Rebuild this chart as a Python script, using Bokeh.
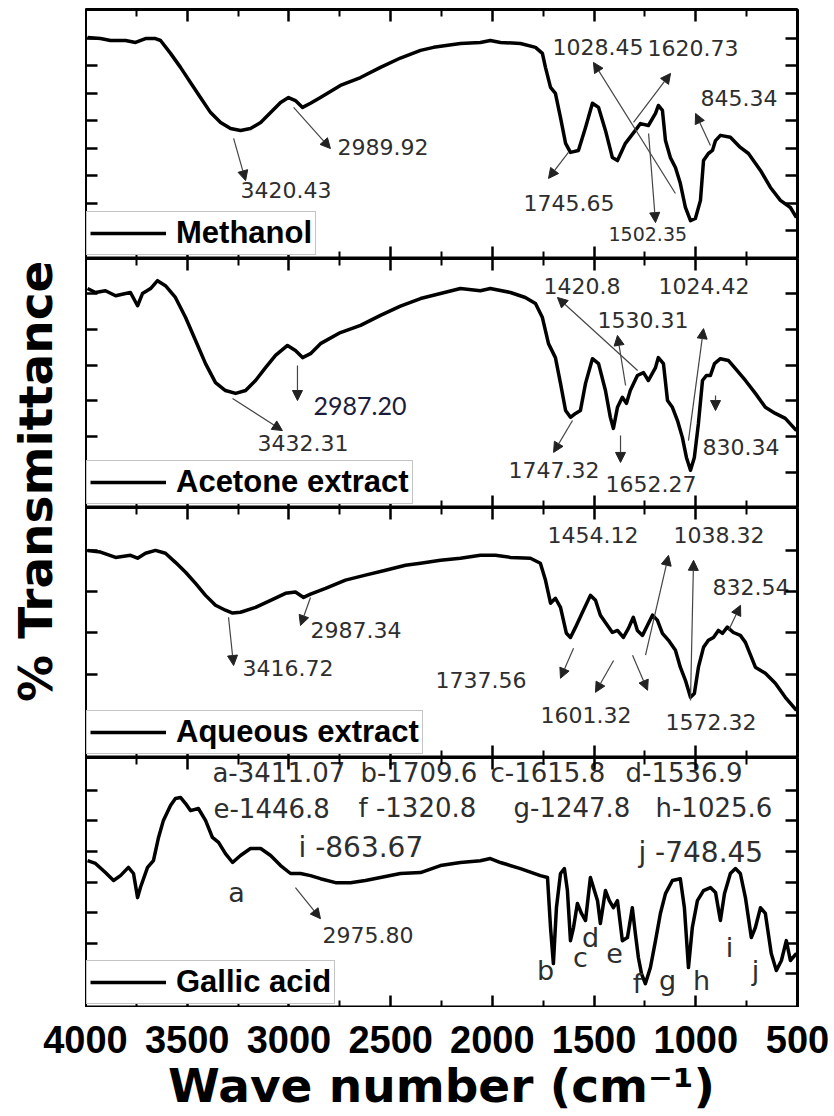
from bokeh.plotting import figure
from bokeh.models import (Range1d, FixedTicker, LinearAxis, Legend, LegendItem,
                          Arrow, NormalHead, ColumnDataSource)
from bokeh.layouts import row, column
from bokeh.embed import file_html
from bokeh.resources import INLINE
from bokeh.core.properties import value

# ---------------- data ----------------
methanol_wn = [3990, 3926, 3877, 3803, 3754, 3705, 3656, 3631, 3582, 3533, 3484, 3435, 3385, 3336, 3287, 3238,
               3189, 3139, 3090, 3041, 3002, 2968, 2933, 2894, 2845, 2747, 2648, 2550, 2452, 2353, 2289, 2157,
               2059, 2010, 1960, 1862, 1788, 1754, 1739, 1714, 1690, 1665, 1640, 1616, 1577, 1542, 1508, 1478,
               1444, 1410, 1385, 1346, 1297, 1272, 1233, 1198, 1184, 1164, 1149, 1125, 1100, 1076, 1051, 1026,
               1002, 977, 962, 938, 918, 903, 879, 830, 781, 741, 682, 633, 584, 535, 505]
methanol_t = [90.4, 90, 89.3, 89.3, 88.6, 90, 90, 89.3, 84.6, 79.5, 74, 68.5, 63, 59.4, 57.2, 56.5,
              57.2, 59.4, 63, 66.7, 68.5, 67.4, 64.9, 66.4, 68.5, 72.9, 75.8, 79.5, 82.9, 85.7, 86.8, 88.2,
              88.6, 89.3, 88.6, 88.2, 86.8, 84.6, 79.5, 72.2, 70, 61.2, 51.8, 48.5, 49.2, 57.6, 66.4, 64.9,
              56.5, 46.6, 45.5, 51.8, 56.5, 59, 58.3, 62.7, 65.6, 63.8, 52.8, 46.6, 43, 37.2, 28.4, 23.6,
              24.4, 31, 45.5, 48.1, 49.2, 52.8, 54.7, 54, 50.3, 48.1, 41.9, 35.7, 31, 28.4, 24.7]

acetone_wn = [3990, 3951, 3902, 3852, 3803, 3779, 3744, 3720, 3680, 3646, 3607, 3558, 3508, 3459, 3410, 3361,
              3312, 3262, 3213, 3164, 3115, 3066, 3007, 2968, 2933, 2894, 2845, 2747, 2648, 2550, 2452, 2353,
              2255, 2157, 2059, 2010, 1911, 1838, 1788, 1754, 1724, 1690, 1665, 1640, 1616, 1591, 1567, 1542,
              1508, 1478, 1444, 1420, 1405, 1385, 1361, 1341, 1322, 1287, 1257, 1233, 1198, 1184, 1159, 1139,
              1115, 1090, 1066, 1046, 1026, 1007, 987, 967, 948, 928, 908, 879, 840, 805, 756, 707, 658, 609,
              560, 505]
acetone_t = [81.4, 80.3, 80.8, 79.4, 80, 80.3, 76.6, 80, 81.4, 83.6, 82.2, 78.9, 73.3, 66.9, 60.4, 55.1,
             52.9, 52.1, 52.9, 55.7, 59.3, 62.7, 65.5, 64.1, 62.1, 63.2, 66, 69.1, 71.1, 73.9, 76.5, 78.6,
             80, 81.4, 80.8, 81.4, 80.3, 78.9, 77.2, 73.3, 66, 62.1, 54.9, 47.3, 45.4, 46.5, 47.3, 54.9,
             61.8, 60.4, 52.9, 45.4, 42.3, 48.2, 51, 49.3, 52.9, 57.1, 57.9, 55.7, 59.3, 62.1, 60.4, 50.1,
             48.2, 44.5, 39.8, 34.2, 30.6, 34.2, 43.7, 55.7, 57.1, 57.1, 60.4, 61.8, 61.3, 59, 55.7, 52.1,
             48.2, 46.5, 45.1, 41.7]

aqueous_wn = [3990, 3926, 3852, 3779, 3744, 3705, 3656, 3607, 3558, 3508, 3459, 3410, 3361, 3312, 3277, 3238,
              3164, 3090, 3017, 2968, 2928, 2894, 2820, 2722, 2624, 2525, 2427, 2353, 2255, 2157, 2059, 1985,
              1911, 1813, 1764, 1739, 1714, 1690, 1665, 1636, 1616, 1591, 1557, 1518, 1493, 1469, 1434, 1410,
              1385, 1356, 1331, 1307, 1287, 1262, 1238, 1213, 1189, 1164, 1134, 1100, 1076, 1051, 1026, 1007,
              987, 962, 938, 913, 889, 869, 845, 815, 781, 756, 707, 658, 609, 560, 505]
aqueous_t = [70, 69.6, 68.3, 68.8, 68.1, 69.3, 70, 69.3, 67.1, 64.7, 62, 59.1, 56.7, 55.5, 54.8, 55,
             56.2, 57.9, 59.6, 59.9, 58.6, 59.4, 60.8, 62.8, 64, 65.2, 66.4, 66.9, 67.6, 68.1, 68.8, 68.8,
             68.3, 68.1, 66.9, 62.8, 57.2, 58.4, 56.2, 49.9, 48.9, 51.4, 55, 59.1, 57.9, 54.3, 51.8, 50.1,
             50.6, 48.9, 51.1, 53.8, 50.6, 49.4, 51.8, 54.3, 53.1, 49.9, 48.2, 45.8, 41.7, 38.5, 34.4, 35.3,
             41.7, 46.5, 48.2, 48.9, 50.6, 49.9, 51.4, 50.1, 49.4, 47.7, 41.7, 40.2, 37.8, 34.4, 31.2]

gallic_wn = [3990, 3951, 3902, 3862, 3828, 3789, 3764, 3744, 3730, 3695, 3666, 3641, 3617, 3582, 3558, 3533,
             3508, 3484, 3445, 3410, 3376, 3346, 3312, 3277, 3238, 3189, 3139, 3090, 3041, 2992, 2943, 2894,
             2845, 2771, 2697, 2624, 2550, 2452, 2353, 2255, 2157, 2059, 2010, 1960, 1862, 1764, 1729, 1714,
             1700, 1685, 1665, 1646, 1631, 1616, 1601, 1582, 1562, 1542, 1518, 1503, 1483, 1469, 1444, 1425,
             1405, 1385, 1361, 1336, 1312, 1297, 1282, 1267, 1248, 1223, 1198, 1174, 1149, 1115, 1076, 1056,
             1036, 1017, 992, 962, 928, 903, 879, 859, 830, 805, 781, 756, 727, 707, 682, 658, 629, 604, 579,
             555, 535, 505]
gallic_t = [57, 56.1, 53.1, 50.5, 52.1, 54.8, 52.8, 44.9, 48.2, 54.8, 57, 64.6, 70.2, 75.1, 77.4, 77.7,
            75.7, 73.4, 74.1, 70.2, 64.6, 63, 59.3, 56.4, 58.7, 61, 61, 58.7, 55.4, 52.8, 52.8, 52.1,
            51.1, 49.8, 49.8, 50.5, 51.5, 52.8, 53.1, 55.4, 56.4, 57, 57.7, 56.4, 54.4, 52.1, 51.5, 35.1,
            23.3, 41.6, 52.8, 54.4, 47.2, 30.8, 35.1, 43, 39.7, 37.4, 51.5, 48.2, 43.9, 36.4, 47.2, 43.9,
            41.6, 43.9, 30.8, 31.8, 41.6, 33.1, 25.2, 20, 16.7, 22, 30.8, 39.7, 46.2, 50.5, 51.1, 41.6,
            22, 35.1, 43.9, 47.2, 48.2, 46.6, 37.4, 46.2, 52.8, 54.4, 52.8, 44.9, 31.8, 35.1, 41.6, 39.7,
            26.6, 21, 24.3, 30.8, 24.3, 26.6]

series_names = ["Methanol", "Acetone extract", "Aqueous extract", "Gallic acid"]

x_major_ticks = [4000, 3500, 3000, 2500, 2000, 1500, 1000, 500]
x_minor_ticks = [3750, 3250, 2750, 2250, 1750, 1250, 750]

# y ranges / ticks of each panel (arbitrary %T units)
y_ranges = [(9.8, 100.6), (20.2, 89.8), (19.8, 80.4), (8.9, 90.8)]
y_ticks = [[20, 30, 40, 50, 60, 70, 80, 90], [30, 40, 50, 60, 70, 80],
           [30, 40, 50, 60, 70], [20, 30, 40, 50, 60, 70, 80]]

# peak annotations: label text, position (wave number, %T)
m_lab_text = ["3420.43", "2989.92", "1745.65", "1028.45", "1620.73", "845.34"]
m_lab_x = [3238, 2761, 1847, 1704, 1237, 977]
m_lab_y = [34.6, 50.3, 30.2, 86.8, 86.4, 68.5]
m_small_text = ["1502.35"]
m_small_x = [1429]
m_small_y = [18.9]
m_arrows = [(3272, 53.6, 3213, 38.2), (2977, 64.9, 2796, 49.9), (1626, 48.5, 1724, 39.0),
            (1232, 55.4, 1198, 22.9), (1100, 33.5, 1503, 81.3), (1306, 59.4, 1124, 77.3),
            (928, 51.0, 1001, 62.7)]

a_lab_text = ["3432.31", "1420.8", "1530.31", "1024.42", "1747.32", "1652.27", "830.34"]
a_lab_x = [3154, 1749, 1483, 1183, 1921, 1444, 967]
a_lab_y = [38.1, 82.2, 72.5, 82.2, 30.6, 26.9, 37.0]
a_alt_text = ["2987.20"]
a_alt_x = [2879]
a_alt_y = [48.7]
a_arrows = [(3277, 50.7, 3032, 41.7), (2958, 59.9, 2958, 50.1), (1286, 58.5, 1680, 78.9),
            (1345, 54.3, 1385, 68.3), (1036, 38.9, 962, 70.2), (1606, 44.5, 1699, 35.6),
            (1370, 40.3, 1370, 32.8), (903, 51.5, 903, 47.3)]

q_lab_text = ["3416.72", "2987.34", "1454.12", "1038.32", "832.54", "1737.56", "1601.32", "1572.32"]
q_lab_x = [3228, 2894, 1729, 1109, 918, 2279, 1763, 1149]
q_lab_y = [41.4, 50.6, 73.7, 73.7, 61.1, 38.5, 30.0, 28.3]
q_arrows = [(3297, 53.8, 3272, 42.1), (2894, 58.6, 2943, 51.8), (1601, 46.3, 1665, 39.0),
            (1404, 43.3, 1493, 35.6), (1311, 44.6, 1237, 36.1), (1247, 44.6, 1134, 68.8),
            (1026, 33.6, 1011, 67.6), (839, 50.6, 780, 56.7)]

g_key_text = ["a-3411.07", "b-1709.6", "c-1615.8", "d-1536.9",
              "e-1446.8", "f -1320.8", "g-1247.8", "h-1025.6"]
g_key_x = [3376, 2648, 2009, 1345, 3371, 2658, 1896, 1198]
g_key_y = [85.6, 85.6, 85.6, 85.6, 74.1, 74.1, 74.1, 74.1]
g_key2_text = ["i -863.67", "j -748.45"]
g_key2_x = [2953, 1282]
g_key2_y = [61.3, 59.7]
g_peak_text = ["a", "b", "c", "d", "e", "f", "g", "h", "i", "j"]
g_peak_x = [3258, 1739, 1567, 1517, 1399, 1286, 1139, 972, 834, 706]
g_peak_y = [46.6, 21.0, 25.2, 31.8, 26.6, 16.7, 17.7, 17.7, 28.5, 21.0]
g_lab_text = ["2975.80"]
g_lab_x = [2835]
g_lab_y = [32.5]
g_arrows = [(2968, 48.2, 2845, 38.0)]

# ---------------- drawing ----------------
x_range = Range1d(4000, 500)
ANN = "#2e2e2e"


def style_axis(ax, ticker, minor_len=7):
    ax.ticker = ticker
    ax.axis_line_width = 3
    ax.axis_line_color = "black"
    ax.major_tick_in = 12
    ax.major_tick_out = 0
    ax.minor_tick_in = minor_len
    ax.minor_tick_out = 0
    ax.major_tick_line_width = 2.5
    ax.minor_tick_line_width = 2
    ax.major_label_text_font_size = "0px"
    ax.major_label_standoff = 0


def panel(idx, wn, t, frame_h, top):
    p = figure(frame_width=712, frame_height=frame_h, x_range=x_range,
               y_range=Range1d(*y_ranges[idx]), output_backend="svg",
               toolbar_location=None, x_axis_location=None, y_axis_location=None,
               min_border_left=0, min_border_right=37, min_border_top=top,
               min_border_bottom=0, outline_line_color="black", outline_line_width=2)
    p.grid.visible = False
    xt = FixedTicker(ticks=x_major_ticks, minor_ticks=x_minor_ticks)
    yt = FixedTicker(ticks=y_ticks[idx], minor_ticks=[])
    for loc in ["above", "below"]:
        ax = LinearAxis()
        style_axis(ax, xt)
        p.add_layout(ax, loc)
    for loc in ["left", "right"]:
        ax = LinearAxis()
        style_axis(ax, yt, minor_len=0)
        p.add_layout(ax, loc)
    r = p.line(wn, t, line_color="black", line_width=3.5, line_join="round")
    leg = Legend(items=[LegendItem(label=series_names[idx], renderers=[r])],
                 location=(1, 3), margin=0, padding=3, glyph_width=76, glyph_height=20,
                 label_standoff=10, label_text_font="Liberation Sans",
                 label_text_font_style="bold", label_text_font_size="31px",
                 label_text_color="black", label_height=20,
                 border_line_color="#8a8a8a", border_line_width=1.5,
                 background_fill_color="white", background_fill_alpha=1.0)
    p.add_layout(leg)
    return p


def add_text(p, xs, ys, texts, size, align="left", font="DejaVu Sans", color=ANN):
    p.text(x=xs, y=ys, text=texts, text_align=align, text_baseline="middle",
           text_font=value(font), text_font_size=size, text_color=color)


def add_arrows(p, arrows):
    src = ColumnDataSource(dict(x0=[a[0] for a in arrows], y0=[a[1] for a in arrows],
                                x1=[a[2] for a in arrows], y1=[a[3] for a in arrows]))
    p.add_layout(Arrow(end=NormalHead(size=10, fill_color="#222222", line_color="#222222"),
                       x_start="x0", y_start="y0", x_end="x1", y_end="y1", source=src,
                       line_color="#444444", line_width=1.2))


p1 = panel(0, methanol_wn, methanol_t, 249, 9)
add_text(p1, m_lab_x, m_lab_y, m_lab_text, "22px")
add_text(p1, m_small_x, m_small_y, m_small_text, "19px")
add_arrows(p1, m_arrows)

p2 = panel(1, acetone_wn, acetone_t, 249, 0)
add_text(p2, a_lab_x, a_lab_y, a_lab_text, "22px")
add_text(p2, a_alt_x, a_alt_y, a_alt_text, "25px", font="Lato", color="#1c1c3a")
add_arrows(p2, a_arrows)

p3 = panel(2, aqueous_wn, aqueous_t, 250, 0)
add_text(p3, q_lab_x, q_lab_y, q_lab_text, "22px")
add_arrows(p3, q_arrows)

p4 = panel(3, gallic_wn, gallic_t, 250, 0)
add_text(p4, g_key_x, g_key_y, g_key_text, "26px")
add_text(p4, g_key2_x, g_key2_y, g_key2_text, "28px")
add_text(p4, g_peak_x, g_peak_y, g_peak_text, "27px", align="center")
add_text(p4, g_lab_x, g_lab_y, g_lab_text, "22px")
add_arrows(p4, g_arrows)

# x-axis tick labels and title (full width so the 4000 label is not pushed)
xa = figure(frame_width=712, frame_height=1, x_range=x_range, y_range=Range1d(0, 1),
            output_backend="svg", toolbar_location=None, x_axis_location=None,
            y_axis_location=None, min_border_left=85, min_border_right=37,
            min_border_top=0, min_border_bottom=0, outline_line_color=None)
xa.grid.visible = False
bx = LinearAxis(ticker=FixedTicker(ticks=x_major_ticks, minor_ticks=[]))
bx.axis_line_color = None
bx.major_tick_line_color = None
bx.minor_tick_line_color = None
bx.major_tick_in = 0
bx.major_tick_out = 0
bx.major_label_text_font = "Liberation Sans"
bx.major_label_text_font_style = "bold"
bx.major_label_text_font_size = "38px"
bx.major_label_text_color = "black"
bx.major_label_standoff = 16
bx.axis_label = "Wave number (cm\u207b\u00b9)"
bx.axis_label_text_font = "DejaVu Sans"
bx.axis_label_text_font_style = "bold"
bx.axis_label_text_font_size = "47px"
bx.axis_label_text_color = "black"
bx.axis_label_standoff = 2
xa.add_layout(bx, "below")

# y-axis title column
lab = figure(width=85, height=1008, x_range=Range1d(0, 1), y_range=Range1d(0, 1),
             output_backend="svg", toolbar_location=None, min_border=0,
             x_axis_location=None, y_axis_location=None, outline_line_color=None)
lab.grid.visible = False
lab.text(x=[0.41], y=[0.523], text=["% Transmittance"], angle=1.5708,
         text_align="center", text_baseline="middle", text_font=value("DejaVu Sans"),
         text_font_style="bold", text_font_size="47px", text_color="black")

layout = column(row(lab, column(p1, p2, p3, p4)), xa)
open("out.html", "w").write(file_html(layout, INLINE))
